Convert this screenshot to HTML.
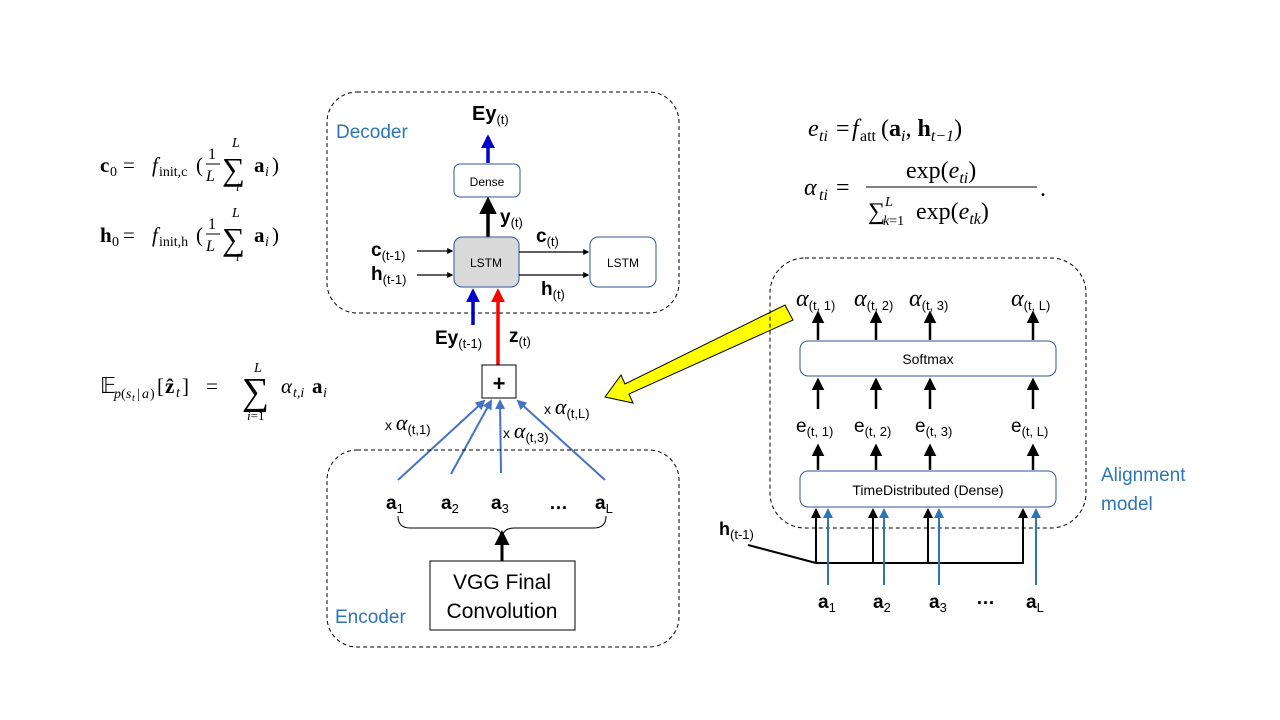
<!DOCTYPE html>
<html><head><meta charset="utf-8"><style>
body{margin:0;background:#fff;}
svg{display:block;}
.s{font-family:"Liberation Sans",sans-serif;}
.m{font-family:"Liberation Serif",serif;}
</style></head><body>
<svg width="1280" height="720" viewBox="0 0 1280 720" xmlns="http://www.w3.org/2000/svg">
<defs>
<marker id="ak" viewBox="0 0 10 10" refX="8" refY="5" markerWidth="5" markerHeight="5" orient="auto"><path d="M0,0L10,5L0,10z" fill="#000"/></marker>
<marker id="ab" viewBox="0 0 10 10" refX="8" refY="5" markerWidth="4" markerHeight="4" orient="auto"><path d="M0,0L10,5L0,10z" fill="#0000cc"/></marker>
<marker id="ar" viewBox="0 0 10 10" refX="8" refY="5" markerWidth="4" markerHeight="4" orient="auto"><path d="M0,0L10,5L0,10z" fill="#ff0000"/></marker>
<marker id="al" viewBox="0 0 10 10" refX="8" refY="5" markerWidth="5" markerHeight="5" orient="auto"><path d="M0,0L10,5L0,10z" fill="#4472C4"/></marker>
<marker id="at" viewBox="0 0 10 10" refX="8" refY="5" markerWidth="5" markerHeight="5" orient="auto"><path d="M0,0L10,5L0,10z" fill="#2E75B6"/></marker>
</defs>

<!-- Decoder -->
<rect x="327" y="92" width="352" height="221" rx="30" fill="none" stroke="#000" stroke-dasharray="4,3"/>
<text x="336" y="138" class="s" font-size="19" fill="#2E75B6">Decoder</text>
<text x="472" y="120" class="s" font-size="20" font-weight="bold">Ey<tspan font-size="13" font-weight="normal" dy="4">(t)</tspan></text>
<line x1="488" y1="163" x2="488" y2="137" stroke="#0000cc" stroke-width="3.5" marker-end="url(#ab)"/>
<rect x="454" y="164" width="66" height="33" rx="6" fill="#fff" stroke="#2F5597"/>
<text x="487" y="186" class="s" font-size="12" text-anchor="middle">Dense</text>
<line x1="488" y1="237" x2="488" y2="200" stroke="#000" stroke-width="3.5" marker-end="url(#ak)"/>
<text x="500" y="223" class="s" font-size="19" font-weight="bold">y<tspan font-size="13" font-weight="normal" dy="4">(t)</tspan></text>
<rect x="454" y="237" width="65" height="50" rx="8" fill="#d9d9d9" stroke="#2F5597"/>
<text x="486" y="267" class="s" font-size="12" text-anchor="middle">LSTM</text>
<rect x="590" y="237" width="66" height="50" rx="8" fill="#fff" stroke="#2F5597"/>
<text x="623" y="267" class="s" font-size="12" text-anchor="middle">LSTM</text>
<text x="371" y="256" class="s" font-size="19" font-weight="bold">c<tspan font-size="13" font-weight="normal" dy="4">(t-1)</tspan></text>
<text x="371" y="280" class="s" font-size="19" font-weight="bold">h<tspan font-size="13" font-weight="normal" dy="4">(t-1)</tspan></text>
<line x1="417" y1="251" x2="452" y2="251" stroke="#000" stroke-width="1.2" marker-end="url(#ak)"/>
<line x1="417" y1="275" x2="452" y2="275" stroke="#000" stroke-width="1.2" marker-end="url(#ak)"/>
<line x1="519" y1="252" x2="588" y2="252" stroke="#000" stroke-width="1.2" marker-end="url(#ak)"/>
<line x1="519" y1="275" x2="588" y2="275" stroke="#000" stroke-width="1.2" marker-end="url(#ak)"/>
<text x="536" y="242" class="s" font-size="19" font-weight="bold">c<tspan font-size="13" font-weight="normal" dy="4">(t)</tspan></text>
<text x="541" y="295" class="s" font-size="19" font-weight="bold">h<tspan font-size="13" font-weight="normal" dy="4">(t)</tspan></text>
<line x1="473" y1="325" x2="473" y2="291" stroke="#0000cc" stroke-width="3.5" marker-end="url(#ab)"/>
<line x1="498" y1="365" x2="498" y2="291" stroke="#ff0000" stroke-width="3.5" marker-end="url(#ar)"/>
<text x="435" y="344" class="s" font-size="19" font-weight="bold">Ey<tspan font-size="13" font-weight="normal" dy="4">(t-1)</tspan></text>
<text x="509" y="342" class="s" font-size="19" font-weight="bold">z<tspan font-size="13" font-weight="normal" dy="4">(t)</tspan></text>
<rect x="482" y="365" width="34" height="33" fill="#fff" stroke="#000"/>
<text x="499" y="391" class="s" font-size="22" font-weight="bold" text-anchor="middle">+</text>

<!-- weighted arrows -->
<line x1="398" y1="480" x2="484" y2="401" stroke="#4472C4" stroke-width="2" marker-end="url(#al)"/>
<line x1="451" y1="474" x2="491" y2="401" stroke="#4472C4" stroke-width="2" marker-end="url(#al)"/>
<line x1="501" y1="473" x2="500" y2="401" stroke="#4472C4" stroke-width="2" marker-end="url(#al)"/>
<line x1="605" y1="480" x2="518" y2="401" stroke="#4472C4" stroke-width="2" marker-end="url(#al)"/>
<text x="385" y="430" class="s" font-size="14">x <tspan class="m" font-size="22" font-style="italic">α</tspan><tspan font-size="13" dy="4">(t,1)</tspan></text>
<text x="503" y="438" class="s" font-size="14">x <tspan class="m" font-size="22" font-style="italic">α</tspan><tspan font-size="13" dy="4">(t,3)</tspan></text>
<text x="544" y="414" class="s" font-size="14">x <tspan class="m" font-size="22" font-style="italic">α</tspan><tspan font-size="13" dy="4">(t,L)</tspan></text>

<!-- Encoder -->
<rect x="327" y="450" width="352" height="197" rx="30" fill="none" stroke="#000" stroke-dasharray="4,3"/>
<g class="s" font-size="19" font-weight="bold">
<text x="386" y="509">a<tspan font-size="13" font-weight="normal" dy="4">1</tspan></text>
<text x="441" y="509">a<tspan font-size="13" font-weight="normal" dy="4">2</tspan></text>
<text x="491" y="509">a<tspan font-size="13" font-weight="normal" dy="4">3</tspan></text>
<text x="549" y="509">…</text>
<text x="595" y="509">a<tspan font-size="13" font-weight="normal" dy="4">L</tspan></text>
</g>
<path d="M398,516 Q398,528 410,528 L490,528 Q502,528 502,540 Q502,528 514,528 L594,528 Q606,528 606,516" fill="none" stroke="#000" stroke-width="1"/>
<line x1="502" y1="561" x2="502" y2="533" stroke="#000" stroke-width="3" marker-end="url(#ak)"/>
<rect x="430" y="561" width="145" height="69" fill="#fff" stroke="#000"/>
<text x="502" y="589" class="s" font-size="21" text-anchor="middle">VGG Final</text>
<text x="502" y="618" class="s" font-size="21" text-anchor="middle">Convolution</text>
<text x="335" y="623" class="s" font-size="19" fill="#2E75B6">Encoder</text>

<!-- Yellow arrow -->
<polygon points="785,305 793,320 629,394 633,403 605,397 621,375 625,384" fill="#ffff00" stroke="#000" stroke-width="1"/>

<!-- Alignment -->
<rect x="770" y="258" width="316" height="270" rx="35" fill="none" stroke="#000" stroke-dasharray="4,3"/>
<g class="s" font-size="13">
<text x="796" y="306"><tspan class="m" font-size="24" font-style="italic">α</tspan><tspan dy="4">(t, 1)</tspan></text>
<text x="854" y="306"><tspan class="m" font-size="24" font-style="italic">α</tspan><tspan dy="4">(t, 2)</tspan></text>
<text x="909" y="306"><tspan class="m" font-size="24" font-style="italic">α</tspan><tspan dy="4">(t, 3)</tspan></text>
<text x="1011" y="306"><tspan class="m" font-size="24" font-style="italic">α</tspan><tspan dy="4">(t, L)</tspan></text>
<text x="796" y="432"><tspan font-size="19">e</tspan><tspan dy="4">(t, 1)</tspan></text>
<text x="854" y="432"><tspan font-size="19">e</tspan><tspan dy="4">(t, 2)</tspan></text>
<text x="915" y="432"><tspan font-size="19">e</tspan><tspan dy="4">(t, 3)</tspan></text>
<text x="1011" y="432"><tspan font-size="19">e</tspan><tspan dy="4">(t, L)</tspan></text>
</g>
<g stroke="#000" stroke-width="2.5" marker-end="url(#ak)">
<line x1="818" y1="340" x2="818" y2="313"/><line x1="876" y1="340" x2="876" y2="313"/><line x1="930" y1="340" x2="930" y2="313"/><line x1="1033" y1="340" x2="1033" y2="313"/>
<line x1="818" y1="409" x2="818" y2="380"/><line x1="876" y1="409" x2="876" y2="380"/><line x1="930" y1="409" x2="930" y2="380"/><line x1="1033" y1="409" x2="1033" y2="380"/>
<line x1="818" y1="470" x2="818" y2="446"/><line x1="876" y1="470" x2="876" y2="446"/><line x1="930" y1="470" x2="930" y2="446"/><line x1="1033" y1="470" x2="1033" y2="446"/>
</g>
<rect x="800" y="341" width="256" height="35" rx="8" fill="#fff" stroke="#2F5597"/>
<text x="928" y="364" class="s" font-size="14" text-anchor="middle">Softmax</text>
<rect x="800" y="471" width="256" height="36" rx="8" fill="#fff" stroke="#2F5597"/>
<text x="928" y="495" class="s" font-size="14" text-anchor="middle">TimeDistributed (Dense)</text>
<g stroke="#000" stroke-width="2" marker-end="url(#ak)">
<line x1="816" y1="563" x2="816" y2="510"/><line x1="873" y1="563" x2="873" y2="510"/><line x1="928" y1="563" x2="928" y2="510"/><line x1="1023" y1="563" x2="1023" y2="510"/>
</g>
<line x1="816" y1="563" x2="1024" y2="563" stroke="#000" stroke-width="2"/>
<line x1="748" y1="545" x2="816" y2="563" stroke="#000" stroke-width="2"/>
<g stroke="#2E75B6" stroke-width="2" marker-end="url(#at)">
<line x1="828" y1="585" x2="828" y2="510"/><line x1="884" y1="585" x2="884" y2="510"/><line x1="939" y1="585" x2="939" y2="510"/><line x1="1036" y1="585" x2="1036" y2="510"/>
</g>
<text x="719" y="535" class="s" font-size="18" font-weight="bold">h<tspan font-size="13" font-weight="normal" dy="4">(t-1)</tspan></text>
<g class="s" font-size="19" font-weight="bold">
<text x="818" y="608">a<tspan font-size="13" font-weight="normal" dy="4">1</tspan></text>
<text x="873" y="608">a<tspan font-size="13" font-weight="normal" dy="4">2</tspan></text>
<text x="929" y="608">a<tspan font-size="13" font-weight="normal" dy="4">3</tspan></text>
<text x="976" y="604">…</text>
<text x="1026" y="608">a<tspan font-size="13" font-weight="normal" dy="4">L</tspan></text>
</g>
<text x="1101" y="481" class="s" font-size="19" fill="#2E75B6">Alignment</text>
<text x="1101" y="510" class="s" font-size="19" fill="#2E75B6">model</text>

<!-- Equations left -->
<g class="m" font-size="21">
<text x="100" y="172" font-weight="bold">c</text><text x="110" y="176" font-size="14">0</text>
<text x="123" y="172">=</text>
<text x="152" y="172" font-style="italic">f</text><text x="159" y="176" font-size="14">init,c</text>
<text x="196" y="172">(</text>
<text x="208" y="159" font-size="16">1</text><line x1="206" y1="164" x2="220" y2="164" stroke="#000"/><text x="206" y="181" font-size="16" font-style="italic">L</text>
<text x="222" y="180" font-size="32">∑</text><text x="232" y="147" font-size="14" font-style="italic">L</text><text x="236" y="191" font-size="12" font-style="italic">i</text>
<text x="254" y="172" font-weight="bold">a</text><text x="265" y="176" font-size="14" font-style="italic">i</text><text x="272" y="172">)</text>

<text x="100" y="242" font-weight="bold">h</text><text x="112" y="246" font-size="14">0</text>
<text x="123" y="242">=</text>
<text x="152" y="242" font-style="italic">f</text><text x="159" y="246" font-size="14">init,h</text>
<text x="196" y="242">(</text>
<text x="208" y="229" font-size="16">1</text><line x1="206" y1="234" x2="220" y2="234" stroke="#000"/><text x="206" y="251" font-size="16" font-style="italic">L</text>
<text x="222" y="250" font-size="32">∑</text><text x="232" y="217" font-size="14" font-style="italic">L</text><text x="236" y="261" font-size="12" font-style="italic">i</text>
<text x="254" y="242" font-weight="bold">a</text><text x="265" y="246" font-size="14" font-style="italic">i</text><text x="272" y="242">)</text>

<text x="100" y="393" font-size="22">𝔼</text>
<text x="114" y="398" font-size="14" font-style="italic">p</text><text x="121" y="398" font-size="14">(</text><text x="126" y="398" font-size="14" font-style="italic">s</text><text x="132" y="401" font-size="10" font-style="italic">t</text><text x="137" y="398" font-size="14">|</text><text x="142" y="398" font-size="14" font-style="italic">a</text><text x="150" y="398" font-size="14">)</text>
<text x="157" y="393">[</text><text x="165" y="393" font-weight="bold">ẑ</text><text x="176" y="397" font-size="14" font-style="italic">t</text><text x="182" y="393">]</text>
<text x="206" y="393">=</text>
<text x="242" y="404" font-size="38">∑</text><text x="254" y="372" font-size="14" font-style="italic">L</text><text x="247" y="420" font-size="13"><tspan font-style="italic">i</tspan>=1</text>
<text x="281" y="393" font-style="italic">α</text><text x="293" y="397" font-size="14" font-style="italic">t,i</text><text x="312" y="393" font-weight="bold">a</text><text x="323" y="397" font-size="14" font-style="italic">i</text>
</g>

<!-- Equations right -->
<g class="m" font-size="24">
<text x="808" y="136" font-style="italic">e</text><text x="819" y="141" font-size="16" font-style="italic">ti</text>
<text x="836" y="136">=</text>
<text x="852" y="136" font-style="italic">f</text><text x="860" y="141" font-size="16">att</text>
<text x="881" y="136">(<tspan font-weight="bold">a</tspan><tspan font-size="16" font-style="italic" dy="5">i</tspan><tspan dy="-5">, </tspan><tspan font-weight="bold">h</tspan><tspan font-size="16" font-style="italic" dy="5">t−1</tspan><tspan dy="-5">)</tspan></text>
<text x="804" y="195" font-style="italic">α</text><text x="819" y="200" font-size="16" font-style="italic">ti</text>
<text x="836" y="195">=</text>
<text x="906" y="178">exp(<tspan font-style="italic">e</tspan><tspan font-size="16" font-style="italic" dy="5">ti</tspan><tspan dy="-5">)</tspan></text>
<line x1="866" y1="187" x2="1037" y2="187" stroke="#000" stroke-width="1"/>
<text x="1040" y="196">.</text>
<text x="868" y="219">∑</text><text x="885" y="206" font-size="14" font-style="italic">L</text><text x="883" y="225" font-size="14"><tspan font-style="italic">k</tspan>=1</text>
<text x="916" y="219">exp(<tspan font-style="italic">e</tspan><tspan font-size="16" font-style="italic" dy="5">tk</tspan><tspan dy="-5">)</tspan></text>
</g>
</svg>
</body></html>
